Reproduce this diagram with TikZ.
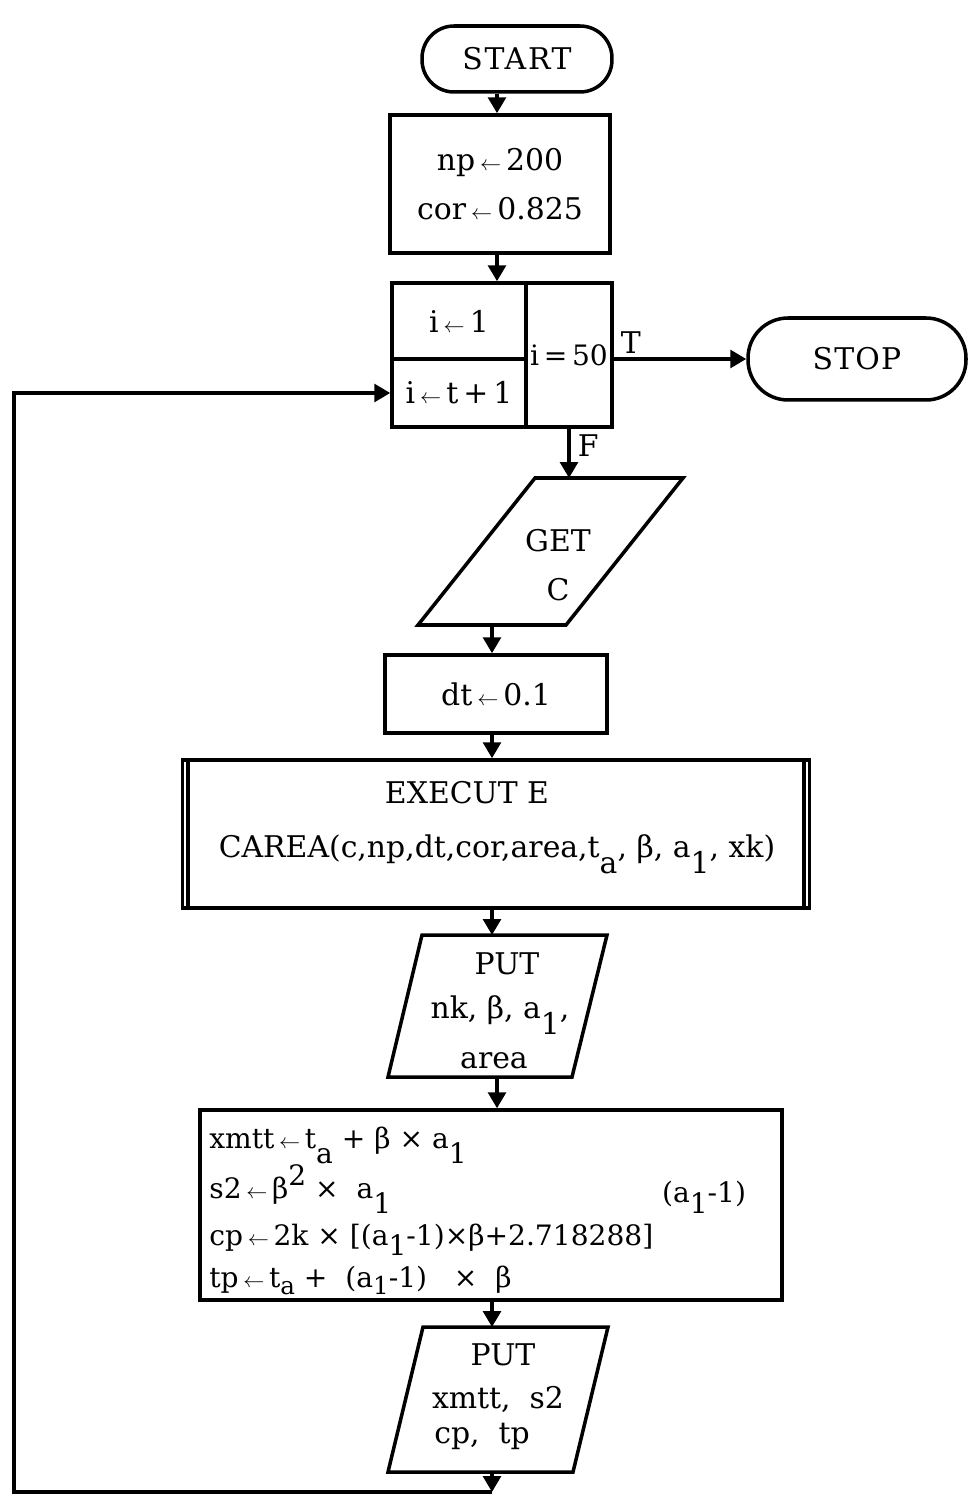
\documentclass[tikz,border=0pt]{standalone}
\usepackage{fontspec}
\setmainfont{DejaVu Serif}
\usetikzlibrary{arrows.meta,positioning,calc}

\newcommand{\asgn}{\,{\fontsize{13}{13}\selectfont$\leftarrow$}\,}
\newcommand{\lowr}[1]{\raisebox{-0.55em}{#1}}
\newcommand{\lowm}[1]{\raisebox{-0.38em}{#1}}
\newcommand{\lows}[1]{\raisebox{-0.25em}{\fontsize{14}{14}\selectfont #1}}
\newcommand{\highr}[1]{\raisebox{0.45em}{#1}}

\tikzset{
  box/.style={draw,line width=2pt,inner sep=0pt,align=center,font=\fontsize{17}{28}\selectfont},
  term/.style={box,rounded corners=0.64cm},
  txt/.style={inner sep=0pt,font=\fontsize{17}{28}\selectfont},
  eqn/.style={inner sep=0pt,font=\fontsize{16}{20}\selectfont},
  edge/.style={line width=2pt,line join=miter},
  flow/.style={line width=2pt,-{Triangle[length=9pt,width=10pt]}},
}

\begin{document}
\begin{tikzpicture}[x=0.02cm,y=-0.02cm]
\useasboundingbox (0,0) rectangle (969,1496);

\node[term,minimum width=3.8cm,minimum height=1.32cm] (start) at (517,59) {\addfontfeature{LetterSpace=6}START};
\node[box,minimum width=4.4cm,minimum height=2.76cm] (init) at (500,184) {np\asgn 200\\cor\asgn 0.825};

\node[box,minimum width=2.68cm,minimum height=1.52cm] (seta) at (459,321) {i\asgn 1};
\node[box,minimum width=2.68cm,minimum height=1.36cm] (setb) at (459,393) {i\asgn t\,+\,1};
\node[box,font=\fontsize{16}{20}\selectfont,minimum width=1.72cm,minimum height=2.88cm] (test) at (569,355) {i\,=\,50};
\node[term,rounded corners=0.8cm,minimum width=4.36cm,minimum height=1.64cm] (stop) at (857,359) {\addfontfeature{LetterSpace=4}STOP};

\draw[edge] (535,478) -- (683,478) -- (566,625) -- (418,625) -- cycle;
\node[txt,align=center] (get) at (558,565) {GET\\C};
\coordinate (getN) at (569,478);
\coordinate (getS) at (492,625);

\node[box,minimum width=4.44cm,minimum height=1.56cm] (dt) at (496,694) {dt\asgn 0.1};

\node[box,minimum width=12.54cm,minimum height=2.96cm] (exec) at (496,834) {};
\draw[edge] ($(exec.north west)+(7,0)$) -- ($(exec.south west)+(7,0)$);
\draw[edge] ($(exec.north east)+(-7,0)$) -- ($(exec.south east)+(-7,0)$);
\node[txt,anchor=base] (exa) at (467,803) {EXECUT E};
\node[txt,anchor=base] (exb) at (497,857) {CAREA(c,np,dt,cor,area,t\lowr{a}, β, a\lowr{1}, xk)};

\draw[edge] (422,935) -- (607,935) -- (572,1077) -- (388,1077) -- cycle;
\node[txt,anchor=base] (puta) at (507,974) {PUT};
\node[txt,anchor=base] (putb) at (500,1018) {nk, β, a\lowr{1},};
\node[txt,anchor=base] (putc) at (494,1068) {area};
\coordinate (putaN) at (492,935);
\coordinate (putaS) at (497,1077);

\node[box,minimum width=11.64cm,minimum height=3.8cm] (form) at (491,1205) {};
\node[eqn,anchor=base west] (fa) at (209,1148) {xmtt\asgn t\lowr{a} + β × a\lowr{1}};
\node[eqn,anchor=base west] (fb) at (209,1198) {s2\asgn β\highr{2} × \ a\lowr{1}};
\node[eqn,anchor=base west] (fc) at (209,1245) {cp\asgn 2k × [(a\lowm{1}-1)×β+2.718288]\hspace{5pt}\raisebox{24pt}{(a\lowm{1}-1)}};
\node[eqn,anchor=base west] (fd) at (209,1287) {tp\asgn t\lows{a} + \ (a\lows{1}-1) \ \ × \ β};

\draw[edge] (423,1327) -- (608,1327) -- (573,1472) -- (388,1472) -- cycle;
\node[txt,anchor=base] (putd) at (503,1365) {PUT};
\node[txt,anchor=base] (pute) at (498,1408) {xmtt, \ s2};
\node[txt,anchor=base] (putf) at (482,1443) {cp, \ tp};
\coordinate (putbN) at (492,1327);
\coordinate (putbS) at (492,1472);
\coordinate (back) at (492,1492);
\coordinate (corner) at (14,1492);

\coordinate (colA) at (497,0);
\coordinate (colB) at (492,0);
\draw[flow] (start.south -| colA) -- (init.north -| colA);
\draw[flow] (init.south -| colA) -- (seta.north -| colA);
\draw[flow] (test.east |- stop.west) -- (stop.west) node[txt,pos=0,anchor=south west,xshift=3pt,yshift=2pt] {T};
\draw[flow] (test.south) -- (getN) node[txt,pos=0.35,anchor=west,xshift=4pt] {F};
\draw[flow] (getS) -- (dt.north -| getS);
\draw[flow] (dt.south -| colB) -- (exec.north -| colB);
\draw[flow] (exec.south -| colB) -- (putaN);
\draw[flow] (putaS) -- (form.north -| putaS);
\draw[flow] (form.south -| colB) -- (putbN);
\draw[flow] (putbS) -- (back);
\draw[flow] (back) -- (corner) |- (setb.west);
\end{tikzpicture}
\end{document}
